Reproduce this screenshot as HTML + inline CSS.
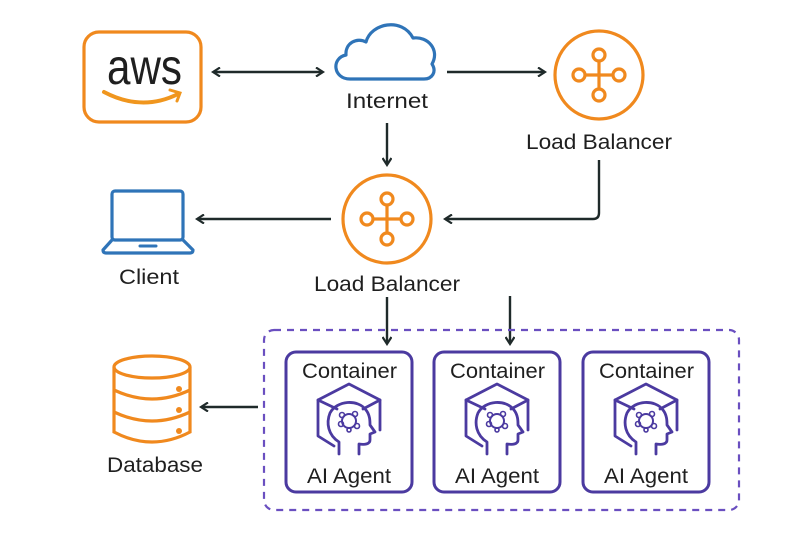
<!DOCTYPE html>
<html><head><meta charset="utf-8"><style>
html,body{margin:0;padding:0;background:#fff;}
svg{display:block;}
text{font-family:"Liberation Sans",sans-serif;fill:#1f1f1f;}
</style></head><body>
<svg width="800" height="533" viewBox="0 0 800 533" xmlns="http://www.w3.org/2000/svg">
<defs>
<marker id="ah" markerWidth="10" markerHeight="10" refX="8" refY="5" orient="auto-start-reverse" markerUnits="userSpaceOnUse">
<path d="M1,0.5 L8,5 L1,9.5" fill="none" stroke="#1f2a2a" stroke-width="2.2"/>
</marker>
<g id="agent" fill="none" stroke="#4b3aa0" stroke-width="2.8" stroke-linejoin="round" stroke-linecap="round">
<path d="M-15,31 L-31,21 L-31,-15 L0,-31 L31,-15 L31,15"/>
<path d="M-31,-15 L-12,-6 M31,-15 L14,-6"/>
<path d="M-10,39 L-10,27 C-21,20 -23,8 -19,-2 C-12,-15 9,-16 17,-5 C21,0 21,6 21,10 L26,17 L21,19 L21,25 C21,29 16,30 10,29 L10,39"/>
<circle cx="0" cy="6" r="7" stroke-width="2"/>
<circle cx="-7" cy="0" r="2.5" stroke-width="1.6"/>
<circle cx="6" cy="-1" r="2.5" stroke-width="1.6"/>
<circle cx="-8" cy="9" r="2.5" stroke-width="1.6"/>
<circle cx="8" cy="11" r="2.5" stroke-width="1.6"/>
<circle cx="0" cy="15" r="2" stroke-width="1.6"/>
</g>
<g id="lb" fill="none" stroke="#f0891e" stroke-width="3.2">
<circle cx="0" cy="0" r="44"/>
<line x1="0" y1="-14" x2="0" y2="14"/>
<line x1="-14" y1="0" x2="14" y2="0"/>
<circle cx="0" cy="-20" r="6"/>
<circle cx="0" cy="20" r="6"/>
<circle cx="-20" cy="0" r="6"/>
<circle cx="20" cy="0" r="6"/>
</g>
</defs>

<!-- AWS -->
<rect x="84" y="32" width="117" height="90" rx="15" fill="none" stroke="#f0891e" stroke-width="3.2"/>
<text x="107" y="84" font-size="50" textLength="75" lengthAdjust="spacingAndGlyphs" fill="#232f3e">aws</text>
<path d="M104,92 Q142,112 178,94" fill="none" stroke="#f0961e" stroke-width="4" stroke-linecap="round"/>
<path d="M170,90 L180,93 L177,101" fill="none" stroke="#f0961e" stroke-width="3" stroke-linecap="round"/>

<!-- arrows -->
<g stroke="#1f2a2a" stroke-width="2.4" fill="none">
<line x1="213" y1="72" x2="323" y2="72" marker-start="url(#ah)" marker-end="url(#ah)"/>
<line x1="447" y1="72" x2="545" y2="72" marker-end="url(#ah)"/>
<line x1="387" y1="123" x2="387" y2="165" marker-end="url(#ah)"/>
<path d="M599,160 L599,213 Q599,219 593,219 L445,219" marker-end="url(#ah)"/>
<line x1="331" y1="219" x2="197" y2="219" marker-end="url(#ah)"/>
<line x1="387" y1="297" x2="387" y2="344" marker-end="url(#ah)"/>
<line x1="510" y1="296" x2="510" y2="344" marker-end="url(#ah)"/>
<line x1="258" y1="407" x2="201" y2="407" marker-end="url(#ah)"/>
</g>

<!-- cloud -->
<path d="M350,79 C333,79 331,58 346,55 C345,43 357,37 366,42 C371,23 402,17 413,38 C428,36 440,50 432,64 C437,72 432,79 424,79 Z" fill="none" stroke="#2f74b8" stroke-width="3.2" stroke-linejoin="round"/>
<text x="346" y="108" font-size="21" textLength="82" lengthAdjust="spacingAndGlyphs">Internet</text>

<!-- LBs -->
<use href="#lb" x="599" y="75"/>
<text x="526" y="149" font-size="21" textLength="146" lengthAdjust="spacingAndGlyphs">Load Balancer</text>
<use href="#lb" x="387" y="219"/>
<text x="314" y="291" font-size="21" textLength="146" lengthAdjust="spacingAndGlyphs">Load Balancer</text>

<!-- laptop -->
<g fill="none" stroke="#2f74b8" stroke-width="3.2" stroke-linejoin="round">
<rect x="112" y="191" width="71" height="49" rx="3"/>
<path d="M112,240 L103,250 Q103,253 106,253 L190,253 Q193,253 193,250 L183,240"/>
</g>
<line x1="140" y1="246" x2="156" y2="246" stroke="#2f74b8" stroke-width="3" stroke-linecap="round"/>
<text x="119" y="284" font-size="21" textLength="60" lengthAdjust="spacingAndGlyphs">Client</text>

<!-- database -->
<g fill="none" stroke="#f0891e" stroke-width="3.2">
<ellipse cx="152" cy="367" rx="38" ry="11"/>
<path d="M114,367 L114,432 Q152,452 190,432 L190,367"/>
<path d="M114,390 Q152,408 190,390"/>
<path d="M114,412 Q152,430 190,412"/>
</g>
<g fill="#f0891e"><circle cx="179" cy="389" r="3"/><circle cx="179" cy="410" r="3"/><circle cx="179" cy="431" r="3"/></g>
<text x="107" y="472" font-size="21" textLength="96" lengthAdjust="spacingAndGlyphs">Database</text>

<!-- dashed group -->
<rect x="264" y="330" width="475" height="180" rx="10" fill="none" stroke="#6a4fc0" stroke-width="2.2" stroke-dasharray="7,6"/>

<!-- containers -->
<g>
<rect x="286" y="352" width="126" height="140" rx="10" fill="#fff" stroke="#4b3aa0" stroke-width="3"/>
<text x="302" y="378" font-size="21" textLength="95" lengthAdjust="spacingAndGlyphs">Container</text>
<use href="#agent" x="349" y="415"/>
<text x="307" y="483" font-size="21" textLength="84" lengthAdjust="spacingAndGlyphs">AI Agent</text>

<rect x="434" y="352" width="126" height="140" rx="10" fill="#fff" stroke="#4b3aa0" stroke-width="3"/>
<text x="450" y="378" font-size="21" textLength="95" lengthAdjust="spacingAndGlyphs">Container</text>
<use href="#agent" x="497" y="415"/>
<text x="455" y="483" font-size="21" textLength="84" lengthAdjust="spacingAndGlyphs">AI Agent</text>

<rect x="583" y="352" width="126" height="140" rx="10" fill="#fff" stroke="#4b3aa0" stroke-width="3"/>
<text x="599" y="378" font-size="21" textLength="95" lengthAdjust="spacingAndGlyphs">Container</text>
<use href="#agent" x="646" y="415"/>
<text x="604" y="483" font-size="21" textLength="84" lengthAdjust="spacingAndGlyphs">AI Agent</text>
</g>
</svg>
</body></html>
